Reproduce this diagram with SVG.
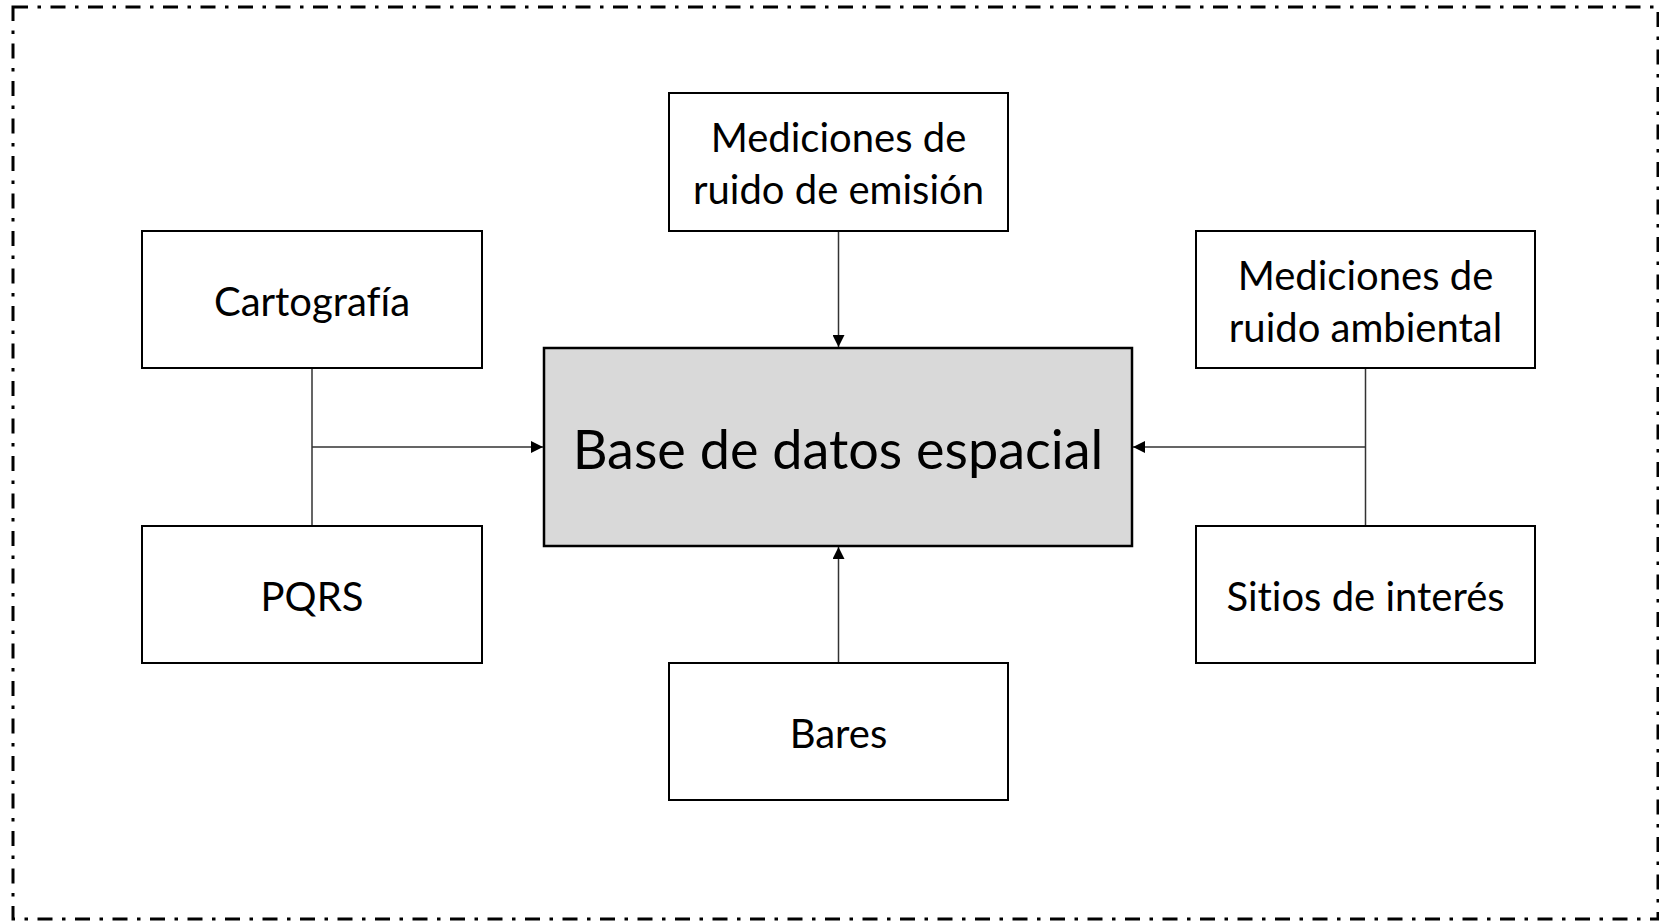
<svg xmlns="http://www.w3.org/2000/svg" width="1659" height="921" viewBox="0 0 1659 921">
<defs>
<style>
.box{fill:#ffffff;stroke:#000;stroke-width:2}
.main{fill:#d9d9d9;stroke:#000;stroke-width:2.5}
.t{font-family:Lato,"Open Sans",sans-serif;font-size:40px;fill:#000;text-anchor:middle;font-variant-ligatures:none}
.tm{font-family:Lato,"Open Sans",sans-serif;font-size:54px;fill:#000;text-anchor:middle;font-variant-ligatures:none}
.c{fill:none;stroke:#333;stroke-width:1.5}
</style>
<marker id="ah" viewBox="0 0 12 12" refX="12" refY="6" markerWidth="12" markerHeight="12" markerUnits="userSpaceOnUse" orient="auto">
<path d="M0,0 L12,6 L0,12 Z" fill="#000"/>
</marker>
</defs>
<rect x="0" y="0" width="1659" height="921" fill="#fff"/>
<rect x="13" y="7" width="1645" height="912" fill="none" stroke="#000" stroke-width="3" stroke-dasharray="15 9.5 3.5 9.5"/>
<g id="connectors">
<path class="c" d="M838.5,231 V347" marker-end="url(#ah)"/>
<path class="c" d="M838.5,663 V547" marker-end="url(#ah)"/>
<path class="c" d="M312,368 V526 M312,447 H543" marker-end="url(#ah)"/>
<path class="c" d="M1365.5,368 V526 M1365.5,447 H1133" marker-end="url(#ah)"/>
</g>
<g id="base">
<rect class="main" x="544" y="348" width="588" height="198"/>
<text class="tm" x="838" y="469">Base de datos espacial</text>
</g>
<g id="emision">
<rect class="box" x="669" y="93" width="339" height="138"/>
<text class="t" x="838.5" y="152">Mediciones de</text>
<text class="t" x="838.5" y="204">ruido de emisión</text>
</g>
<g id="cartografia">
<rect class="box" x="142" y="231" width="340" height="137"/>
<text class="t" x="312" y="316">Cartografía</text>
</g>
<g id="pqrs">
<rect class="box" x="142" y="526" width="340" height="137"/>
<text class="t" x="312" y="611">PQRS</text>
</g>
<g id="ambiental">
<rect class="box" x="1196" y="231" width="339" height="137"/>
<text class="t" x="1365.5" y="290">Mediciones de</text>
<text class="t" x="1365.5" y="342">ruido ambiental</text>
</g>
<g id="sitios">
<rect class="box" x="1196" y="526" width="339" height="137"/>
<text class="t" x="1365.5" y="611">Sitios de interés</text>
</g>
<g id="bares">
<rect class="box" x="669" y="663" width="339" height="137"/>
<text class="t" x="838.5" y="748">Bares</text>
</g>
</svg>
